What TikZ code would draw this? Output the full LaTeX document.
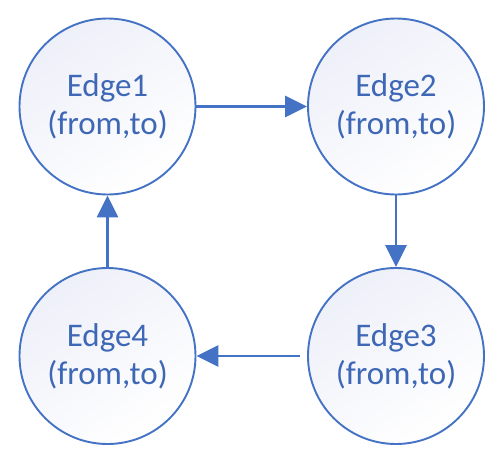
\documentclass[tikz,border=0pt]{standalone}
\usepackage{fontspec}
\setmainfont{Carlito}
\usetikzlibrary{arrows.meta}
\definecolor{ob}{HTML}{4472C4}
\definecolor{obtext}{RGB}{62,104,182}
\definecolor{oblight}{RGB}{238,240,249}
\begin{document}
\begin{tikzpicture}[x=1pt,y=-1pt,
  edgenode/.style={circle, minimum size=176pt, inner sep=0pt, draw=ob, line width=1.9pt,
    top color=oblight, bottom color=white, shading angle=35,
    text=obtext, align=center, font=\fontsize{33}{38}\selectfont},
  arr/.style={draw=ob, line width=2.8pt, -{Triangle[length=22pt,width=21pt]}}]
\useasboundingbox (0,0) rectangle (503,455);
\node[edgenode] (e1) at (107.5,106.5) {Edge1\\(from,to)};
\node[edgenode] (e2) at (396,106.5) {Edge2\\(from,to)};
\node[edgenode] (e3) at (396,356) {Edge3\\(from,to)};
\node[edgenode] (e4) at (107.5,356) {Edge4\\(from,to)};
\draw[arr] (e1) -- (e2);
\draw[arr] (e2) -- (e3);
\draw[arr, shorten <=7pt] (e3) -- (e4);
\draw[arr] (e4) -- (e1);
\end{tikzpicture}
\end{document}
